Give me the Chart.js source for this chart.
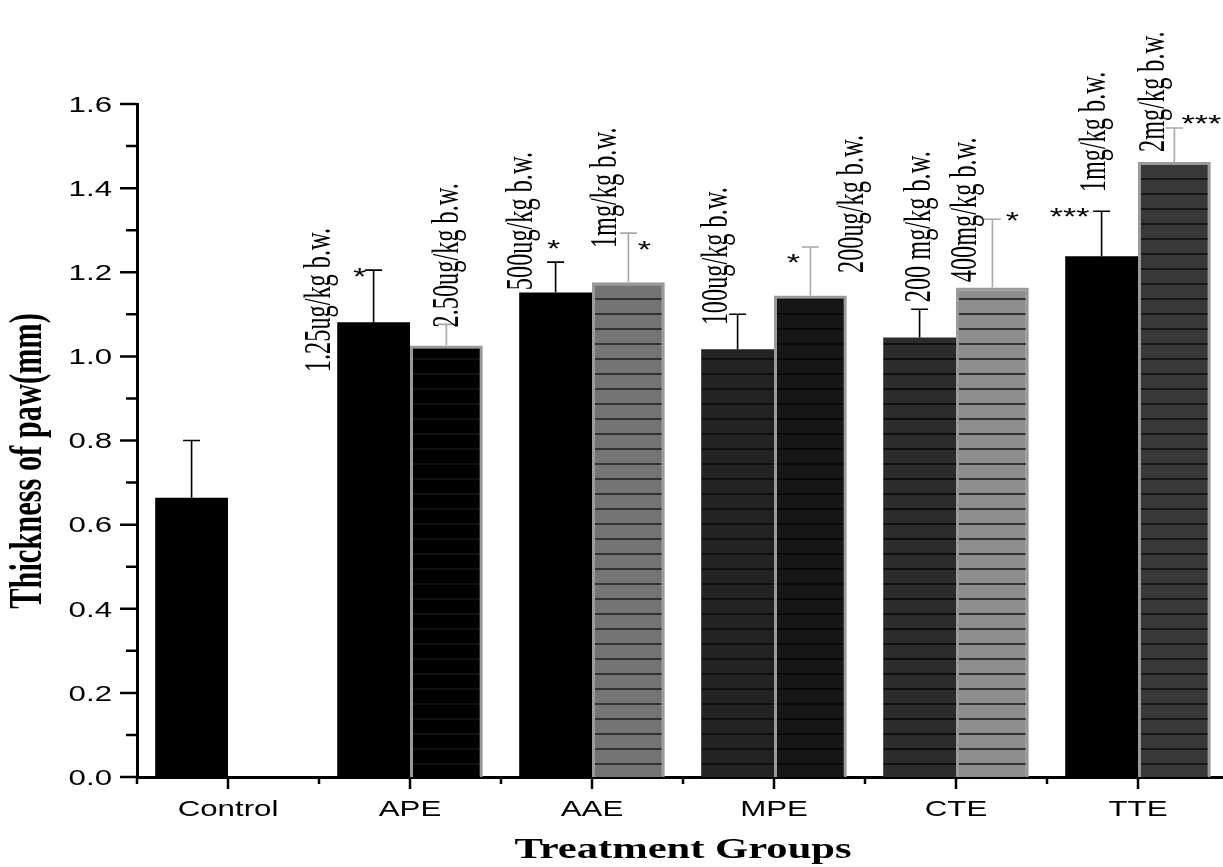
<!DOCTYPE html>
<html>
<head>
<meta charset="utf-8">
<title>Thickness of paw</title>
<script src="https://cdn.jsdelivr.net/npm/chart.js@4.4.1/dist/chart.umd.min.js"></script>
<style>
  html, body { margin: 0; padding: 0; background: #fff; overflow: hidden; }
</style>
</head>
<body>
<canvas id="pawChart" width="1229" height="867"></canvas>
<script>
// Treatment groups on the x axis
const categories = ['Control', 'APE', 'AAE', 'MPE', 'CTE', 'TTE'];

// Paw thickness (mm): first and second bar of each group, with upper error
const lowDose = [0.664, 1.081, 1.152, 1.017, 1.045, 1.238];
const lowDoseErr = [0.136, 0.124, 0.072, 0.083, 0.067, 0.107];
const highDose = [null, 1.026, 1.176, 1.145, 1.164, 1.462];
const highDoseErr = [null, 0.05, 0.117, 0.115, 0.162, 0.081];

// Dose labels and significance marks
const lowDoseLabels = ['', '1.25ug/kg b.w.', '500ug/kg b.w.', '100ug/kg b.w.', '200 mg/kg b.w.', '1mg/kg b.w.'];
const highDoseLabels = ['', '2.50ug/kg b.w.', '1mg/kg b.w.', '200ug/kg b.w.', '400mg/kg b.w.', '2mg/kg b.w.'];
const lowDoseStars = ['', '*', '*', '', '', '***'];
const highDoseStars = ['', '', '*', '*', '*', '***'];

const yTicks = [0, 0.2, 0.4, 0.6, 0.8, 1.0, 1.2, 1.4, 1.6];

// placement of the annotations, pixels from the top of each error bar
const lowLabelShift = [null, [-55, 102], [-35, 28], [-22, 11], [-1, -7], [-8, -19]];
const highLabelShift = [null, [0, 3], [-24, 15], [41, 26], [-28, 63], [-22, 24]];
const lowStarShift = [null, [-14, 1], [-2, -19], null, null, [-32, 0]];
const highStarShift = [null, null, [16, 11], [-17, 10], [20, -4], [27, -10]];

// the original figure is stretched sideways, so is all of its text
const SX = 1.42;

function stripes(bg, line) {
    const c = document.createElement('canvas');
    c.width = 8;
    c.height = 15;
    const g = c.getContext('2d');
    g.fillStyle = bg;
    g.fillRect(0, 0, 8, 15);
    g.fillStyle = line;
    g.fillRect(0, 13, 8, 2);
    return g.createPattern(c, 'repeat');
}

const lowDoseFill = ['#000', '#000', '#000', stripes('#232323', '#0e0e0e'), stripes('#2c2c2c', '#0f0f0f'), '#000'];
const highDoseFill = ['#000', stripes('#000', '#101010'), stripes('#747474', '#333'), stripes('#161616', '#090909'), stripes('#8d8d8d', '#333'), stripes('#383838', '#161616')];

function drawText(ctx, text, x, y, font, opts) {
    ctx.save();
    ctx.translate(x, y);
    ctx.scale(SX, 1);
    if (opts.vertical) ctx.rotate(-Math.PI / 2);
    if (opts.condense) ctx.scale(opts.condense, 1);
    ctx.font = font;
    ctx.fillStyle = '#000';
    ctx.textAlign = opts.align || 'center';
    ctx.textBaseline = 'alphabetic';
    ctx.fillText(text, 0, opts.shift || 0);
    ctx.restore();
}

const decorations = {
    id: 'decorations',
    afterDraw(chart) {
        const ctx = chart.ctx;
        const x = chart.scales.x;
        const y = chart.scales.y;
        const area = chart.chartArea;

        // tick marks
        ctx.save();
        ctx.strokeStyle = '#000';
        ctx.lineWidth = 2.5;
        ctx.beginPath();
        for (let v = 0; v <= 16; v++) {
            const py = y.getPixelForValue(v / 10);
            ctx.moveTo(area.left - (v % 2 === 0 ? 17 : 11), py);
            ctx.lineTo(area.left, py);
        }
        categories.forEach((c, i) => {
            const px = x.getPixelForValue(i);
            ctx.moveTo(px, area.bottom);
            ctx.lineTo(px, area.bottom + 12);
            const edge = px - (x.getPixelForValue(1) - x.getPixelForValue(0)) / 2;
            ctx.moveTo(edge, area.bottom);
            ctx.lineTo(edge, area.bottom + 7);
        });
        ctx.stroke();
        ctx.restore();

        // tick labels and axis titles
        yTicks.forEach(t => {
            drawText(ctx, t.toFixed(1), 112, y.getPixelForValue(t) + 7.8, '22px "Liberation Sans", Arial', {align: 'right'});
        });
        categories.forEach((c, i) => {
            drawText(ctx, c, x.getPixelForValue(i), area.bottom + 39, '22px "Liberation Sans", Arial', {});
        });
        drawText(ctx, 'Treatment Groups', (area.left + area.right) / 2, 858, 'bold 30px "Liberation Serif", "Times New Roman"', {});
        drawText(ctx, 'Thickness of paw(mm)', 27, 461, 'bold 32px "Liberation Serif", "Times New Roman"', {vertical: true, shift: 10, condense: 0.95});

        // error bars, dose labels, stars
        const series = [
            {values: lowDose, errs: lowDoseErr, color: '#000', labels: lowDoseLabels, labelShift: lowLabelShift, stars: lowDoseStars, starShift: lowStarShift},
            {values: highDose, errs: highDoseErr, color: '#a8a8a8', labels: highDoseLabels, labelShift: highLabelShift, stars: highDoseStars, starShift: highStarShift}
        ];
        series.forEach((s, d) => {
            const meta = chart.getDatasetMeta(d);
            meta.data.forEach((bar, i) => {
                if (s.values[i] === null) return;
                const top = y.getPixelForValue(s.values[i] + s.errs[i]);
                ctx.save();
                ctx.strokeStyle = s.color;
                ctx.lineWidth = 1.6;
                ctx.beginPath();
                ctx.moveTo(bar.x, bar.y);
                ctx.lineTo(bar.x, top);
                ctx.moveTo(bar.x - 8.5, top);
                ctx.lineTo(bar.x + 8.5, top);
                ctx.stroke();
                ctx.restore();

                if (s.labels[i]) {
                    const [dx, dy] = s.labelShift[i];
                    drawText(ctx, s.labels[i], bar.x + dx, top + dy, '27px "Liberation Serif", "Times New Roman"', {vertical: true, align: 'left', shift: 8, condense: 0.9});
                }
                if (s.stars[i]) {
                    const [dx, dy] = s.starShift[i];
                    drawText(ctx, s.stars[i], bar.x + dx, top + dy + 13.8, '24px "Liberation Sans", Arial', {});
                }
            });
        });
    }
};

const ctx = document.getElementById('pawChart').getContext('2d');
new Chart(ctx, {
    type: 'bar',
    data: {
        labels: categories,
        datasets: [{
            data: lowDose,
            backgroundColor: lowDoseFill,
            borderWidth: 0,
            categoryPercentage: 0.8,
            barPercentage: 1.0
        }, {
            data: highDose,
            backgroundColor: highDoseFill,
            borderColor: '#9a9a9a',
            borderWidth: 3,
            categoryPercentage: 0.8,
            barPercentage: 1.0
        }]
    },
    options: {
        responsive: false,
        animation: false,
        layout: { padding: { top: 104, left: 0, right: 0, bottom: 0 } },
        plugins: {
            legend: { display: false },
            tooltip: { enabled: false }
        },
        scales: {
            x: {
                offset: true,
                grid: { display: false },
                ticks: { display: false },
                border: { color: '#000', width: 3 },
                afterFit: s => { s.height = 90; }
            },
            y: {
                min: 0,
                max: 1.6,
                grid: { display: false },
                ticks: { display: false, stepSize: 0.2 },
                border: { color: '#000', width: 3 },
                afterFit: s => { s.height; s.width = 137; }
            }
        }
    },
    plugins: [decorations]
});
</script>
</body>
</html>
